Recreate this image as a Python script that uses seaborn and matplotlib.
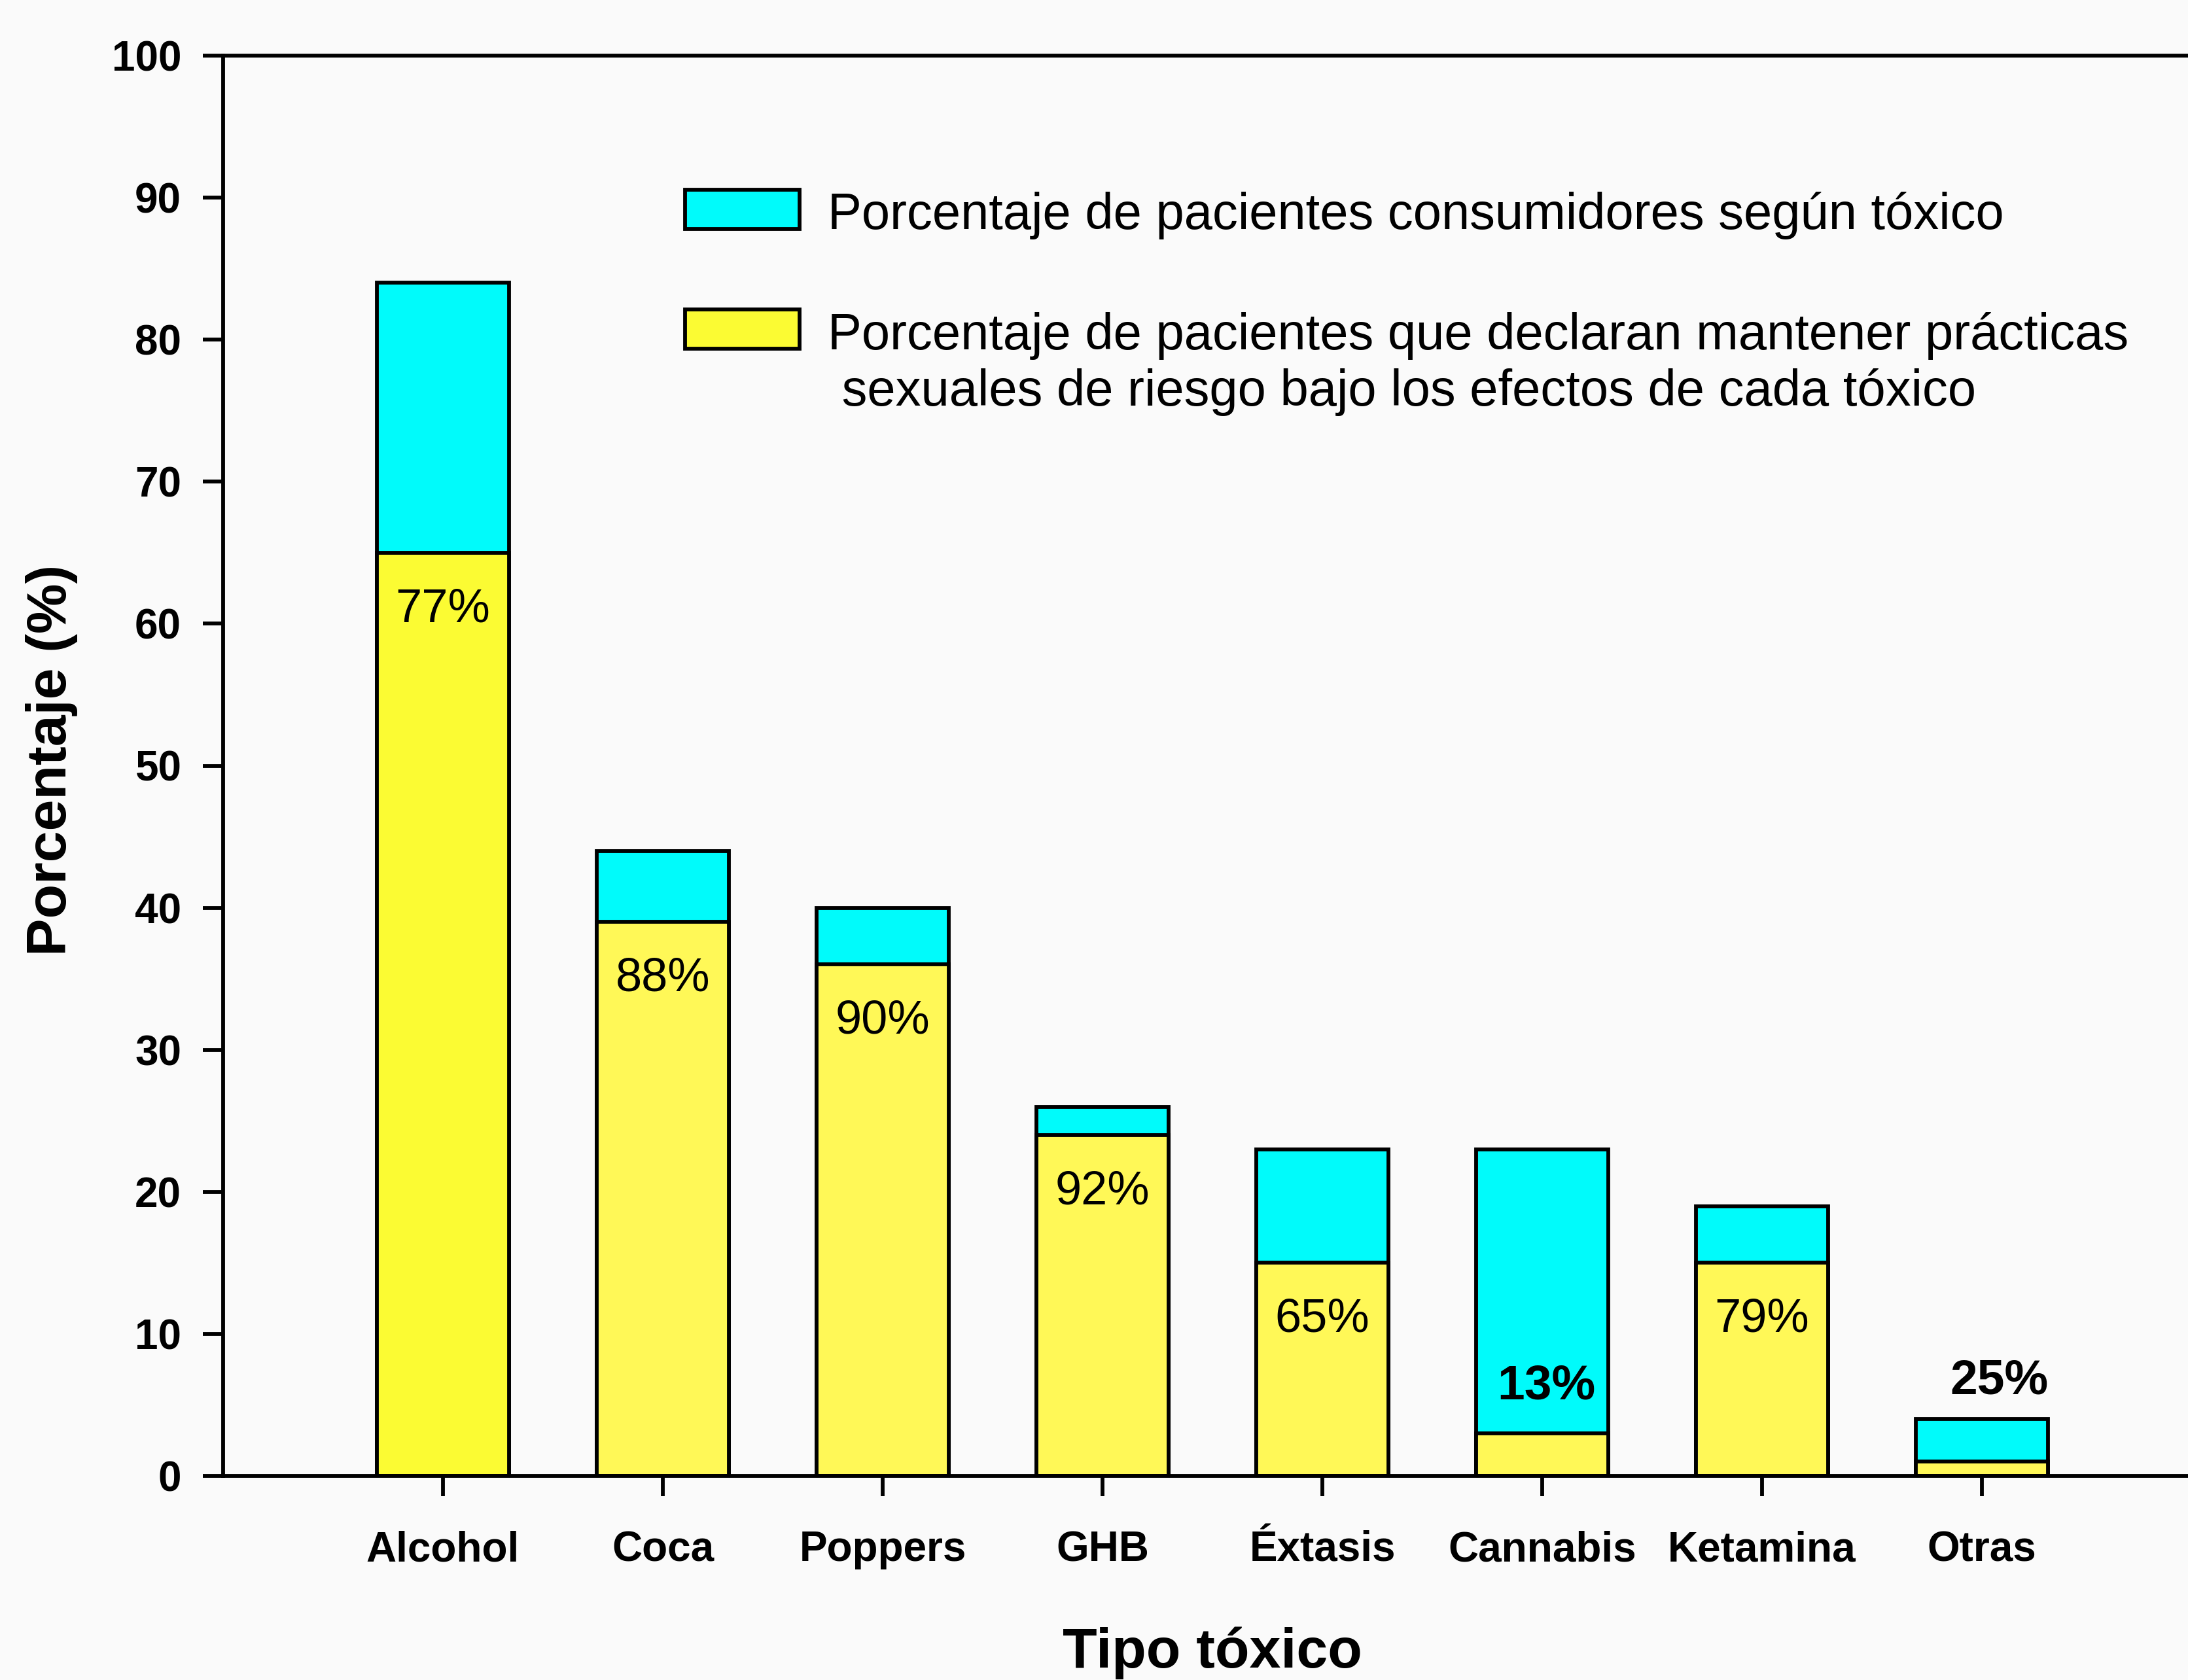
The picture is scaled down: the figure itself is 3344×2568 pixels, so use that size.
import matplotlib
matplotlib.use("Agg")
import matplotlib.pyplot as plt
from matplotlib.patches import Rectangle
import seaborn as sns
import pandas as pd

# ---- data ----
categories = ["Alcohol", "Coca", "Poppers", "GHB", "Éxtasis", "Cannabis", "Ketamina", "Otras"]
consumers = [84, 44, 40, 26, 23, 23, 19, 4]          # % pacientes consumidores (cyan, full bar)
risk = [65, 39, 36, 24, 15, 3, 15, 1]                # % prácticas de riesgo (yellow)
pct_labels = ["77%", "88%", "90%", "92%", "65%", "13%", "79%", "25%"]
yticks = [0, 10, 20, 30, 40, 50, 60, 70, 80, 90, 100]
legend_labels = ["Porcentaje de pacientes consumidores según tóxico",
                 "Porcentaje de pacientes que declaran mantener prácticas",
                 " sexuales de riesgo bajo los efectos de cada tóxico"]

CYAN = "#00fbfb"
YEL_ALC = "#fbfb33"
YEL = "#fff857"
BG = "#fafafa"

sns.set_style("ticks")
plt.rcParams["font.family"] = ["Liberation Sans", "DejaVu Sans"]
plt.rcParams["text.color"] = "black"
plt.rcParams["axes.labelcolor"] = "black"
plt.rcParams["xtick.color"] = "black"
plt.rcParams["ytick.color"] = "black"

W, H = 3344, 2568
DPI = 200
fig = plt.figure(figsize=(W / DPI, H / DPI), dpi=DPI, facecolor=BG)
ax_left, ax_bottom_px, ax_top_px = 341, 2256, 85
ax_w = 3360
ax = fig.add_axes([ax_left / W, 1 - ax_bottom_px / H, ax_w / W, (ax_bottom_px - ax_top_px) / H])
ax.set_facecolor(BG)

LW = 2.1
df = pd.DataFrame({"cat": categories, "consumers": consumers, "risk": risk})

sns.barplot(data=df, x="cat", y="consumers", color=CYAN, saturation=1, width=0.6,
            edgecolor="black", linewidth=LW, ax=ax)
yel_pal = {c: (YEL_ALC if i == 0 else YEL) for i, c in enumerate(categories)}
sns.barplot(data=df, x="cat", y="risk", hue="cat", palette=yel_pal, saturation=1, width=0.6,
            edgecolor="black", linewidth=LW, legend=False, ax=ax)

# percentage labels
for i, (lab, tot, r) in enumerate(zip(pct_labels, consumers, risk)):
    if r > 5:
        ax.text(i, r - 4.0, lab, ha="center", va="center", fontsize=26, color="black")
    elif tot - r > 8:
        ax.text(i + 0.02, r + 3.3, lab, ha="center", va="center", fontsize=27,
                fontweight="bold", color="black")
    else:
        ax.text(i + 0.08, tot + 2.7, lab, ha="center", va="center", fontsize=27,
                fontweight="bold", color="black")

ax.set_xlim(-1, 9)
ax.set_ylim(0, 100)
ax.set_yticks(yticks)
ax.set_yticklabels([str(t) for t in yticks], fontsize=23, fontweight="bold")
ax.set_xticks(range(len(categories)))
ax.set_xticklabels(categories, fontsize=23, fontweight="bold")
ax.tick_params(axis="y", direction="out", length=11, width=LW, pad=12, colors="black")
ax.tick_params(axis="x", direction="out", length=11, width=LW, pad=19, colors="black")
for s in ["left", "bottom", "top", "right"]:
    ax.spines[s].set_linewidth(LW)
    ax.spines[s].set_color("black")

ax.set_xlabel("Tipo tóxico", fontsize=31, fontweight="bold", color="black")
ax.set_ylabel("Porcentaje (%)", fontsize=31, fontweight="bold", color="black")
ax.xaxis.set_label_coords(0.45, -0.106)
ax.yaxis.set_label_coords(-0.066, 0.504)

# legend drawn in axes fraction coordinates
def fx(px):
    return (px - ax_left) / ax_w

def fy(py):
    return (ax_bottom_px - py) / (ax_bottom_px - ax_top_px)

for (top, color) in [(290, CYAN), (473, YEL_ALC)]:
    ax.add_patch(Rectangle((fx(1047), fy(top + 60)), fx(1222) - fx(1047), fy(top) - fy(top + 60),
                           transform=ax.transAxes, facecolor=color, edgecolor="black",
                           linewidth=LW, clip_on=False))
ax.text(fx(1265), fy(329), legend_labels[0], transform=ax.transAxes, fontsize=28,
        va="center", ha="left", color="black")
ax.text(fx(1265), fy(514), legend_labels[1], transform=ax.transAxes, fontsize=28,
        va="center", ha="left", color="black")
ax.text(fx(1265), fy(600), legend_labels[2], transform=ax.transAxes, fontsize=28,
        va="center", ha="left", color="black")

fig.savefig("out.png", dpi=DPI, facecolor=BG)
